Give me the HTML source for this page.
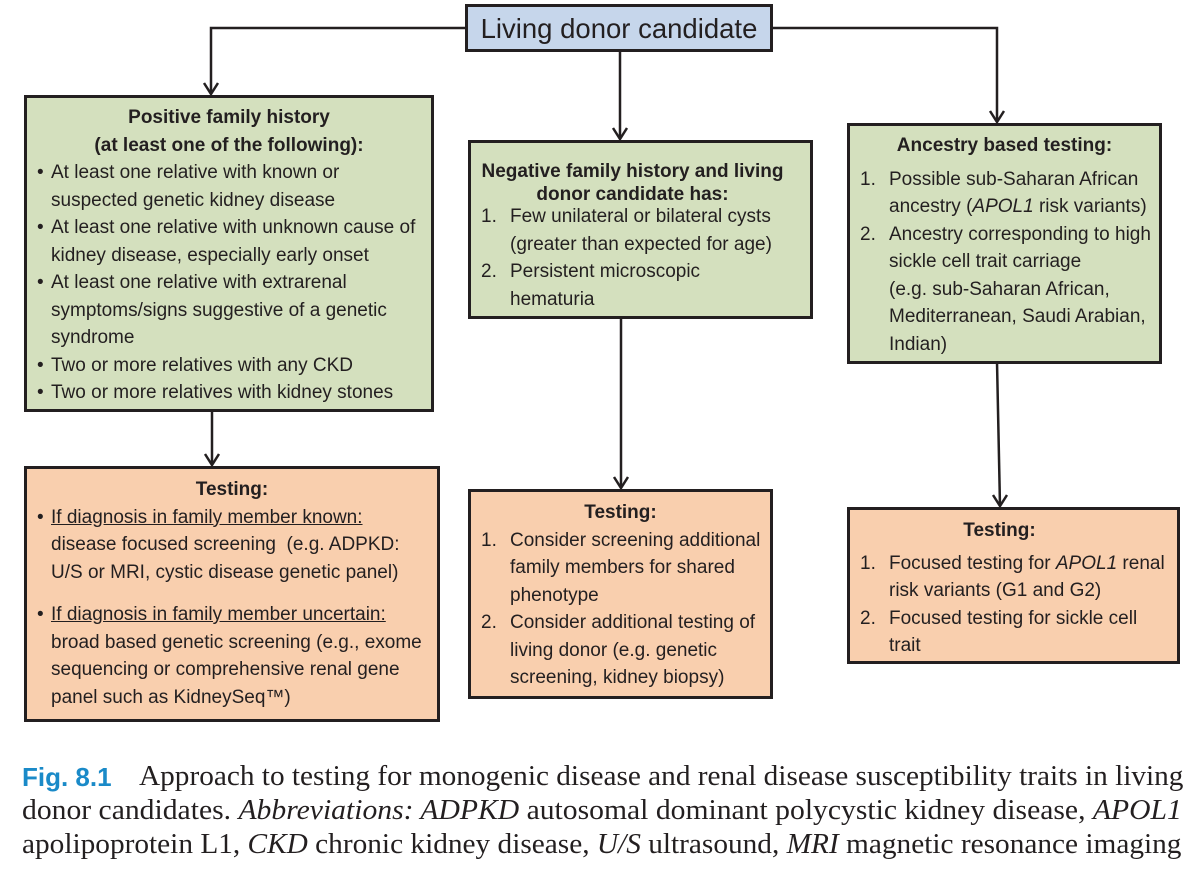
<!DOCTYPE html>
<html><head><meta charset="utf-8"><style>
body{margin:0;width:1200px;height:872px;background:#fff;position:relative;overflow:hidden;font-family:"Liberation Sans",Arial,sans-serif;color:#231f20}
.b{position:absolute;border:3px solid #231f20;box-sizing:border-box;font-size:19px;line-height:27.5px;white-space:nowrap}
.g{background:#d4e0be}.o{background:#f9cfae}
.h{font-weight:bold;text-align:center;font-size:19px}
.l{position:relative;padding-left:24px}
.l span{position:absolute;left:10px}
.n{position:relative;padding-left:39px}
.n span{position:absolute;left:10px}
u{text-decoration:underline}
.cap{position:absolute;left:22px;font-family:"Liberation Serif",serif;font-size:29px;white-space:nowrap;transform-origin:0 0;color:#231f20}
svg{position:absolute;left:0;top:0}
</style></head><body>
<svg width="1200" height="740">
<g stroke="#231f20" stroke-width="2.5" fill="none">
<path d="M466 28H211V94"/><path d="M620 50V139"/><path d="M772 28H997V122"/>
<path d="M212 410V465"/><path d="M621 317V488"/><path d="M997 362L1000 506"/>
</g>
<g stroke="#231f20" stroke-width="2.5" fill="none">
<path d="M204 83L211 94L218 83"/><path d="M613 128L620 139L627 128"/><path d="M990 111L997 122L1004 111"/>
<path d="M205 454L212 465L219 454"/><path d="M614 477L621 488L628 477"/><path d="M993 495L1000 506L1007 495"/>
</g>
</svg>
<div class="b" style="left:465px;top:4px;width:308px;height:48px;background:#c6d6eb;font-size:27.5px;line-height:44px;text-align:center">Living donor candidate</div>

<div class="b g" style="left:24px;top:95px;width:410px;height:317px;padding:6px 0">
<div class="h">Positive family history<br>(at least one of the following):</div>
<div class="l"><span>•</span>At least one relative with known or<br>suspected genetic kidney disease</div>
<div class="l"><span>•</span>At least one relative with unknown cause of<br>kidney disease, especially early onset</div>
<div class="l"><span>•</span>At least one relative with extrarenal<br>symptoms/signs suggestive of a genetic<br>syndrome</div>
<div class="l"><span>•</span>Two or more relatives with any CKD</div>
<div class="l"><span>•</span>Two or more relatives with kidney stones</div>
</div>

<div class="b g" style="left:468px;top:140px;width:345px;height:179px;padding:17px 0 0">
<div class="h" style="margin-right:16px;line-height:23px;margin-bottom:-3px">Negative family history and living<br>donor candidate has:</div>
<div class="n"><span>1.</span>Few unilateral or bilateral cysts<br>(greater than expected for age)</div>
<div class="n"><span>2.</span>Persistent microscopic<br>hematuria</div>
</div>

<div class="b g" style="left:847px;top:123px;width:315px;height:241px;padding:6px 0 0">
<div class="h" style="margin-bottom:6px">Ancestry based testing:</div>
<div class="n"><span>1.</span>Possible sub-Saharan African<br>ancestry (<i>APOL1</i> risk variants)</div>
<div class="n"><span>2.</span>Ancestry corresponding to high<br>sickle cell trait carriage<br>(e.g. sub-Saharan African,<br>Mediterranean, Saudi Arabian,<br>Indian)</div>
</div>

<div class="b o" style="left:24px;top:466px;width:416px;height:256px;padding:7px 0 0">
<div class="h">Testing:</div>
<div class="l"><span>•</span><u>If diagnosis in family member known:</u><br>disease focused screening&nbsp; (e.g. ADPKD:<br>U/S or MRI, cystic disease genetic panel)</div>
<div class="l" style="margin-top:15px"><span>•</span><u>If diagnosis in family member uncertain:</u><br>broad based genetic screening (e.g., exome<br>sequencing or comprehensive renal gene<br>panel such as KidneySeq™)</div>
</div>

<div class="b o" style="left:468px;top:489px;width:305px;height:210px;padding:7px 0 0">
<div class="h">Testing:</div>
<div class="n"><span>1.</span>Consider screening additional<br>family members for shared<br>phenotype</div>
<div class="n"><span>2.</span>Consider additional testing of<br>living donor (e.g. genetic<br>screening, kidney biopsy)</div>
</div>

<div class="b o" style="left:847px;top:507px;width:333px;height:157px;padding:7px 0 0">
<div class="h" style="margin-right:28px">Testing:</div>
<div class="n" style="margin-top:5px"><span>1.</span>Focused testing for <i>APOL1</i> renal<br>risk variants (G1 and G2)</div>
<div class="n"><span>2.</span>Focused testing for sickle cell<br>trait</div>
</div>

<div class="cap" style="top:762px;color:#1a8ac8;font-family:'Liberation Sans',sans-serif;font-size:26px;font-weight:bold">Fig. 8.1</div>
<div class="cap" style="top:760px;left:139px;transform:scaleX(1.01)">Approach to testing for monogenic disease and renal disease susceptibility traits in living</div>
<div class="cap" style="top:794px;transform:scaleX(1.022)">donor candidates. <i>Abbreviations: ADPKD</i> autosomal dominant polycystic kidney disease, <i>APOL1</i></div>
<div class="cap" style="top:828px;transform:scaleX(1.011)">apolipoprotein L1, <i>CKD</i> chronic kidney disease, <i>U/S</i> ultrasound, <i>MRI</i> magnetic resonance imaging</div>
</body></html>
